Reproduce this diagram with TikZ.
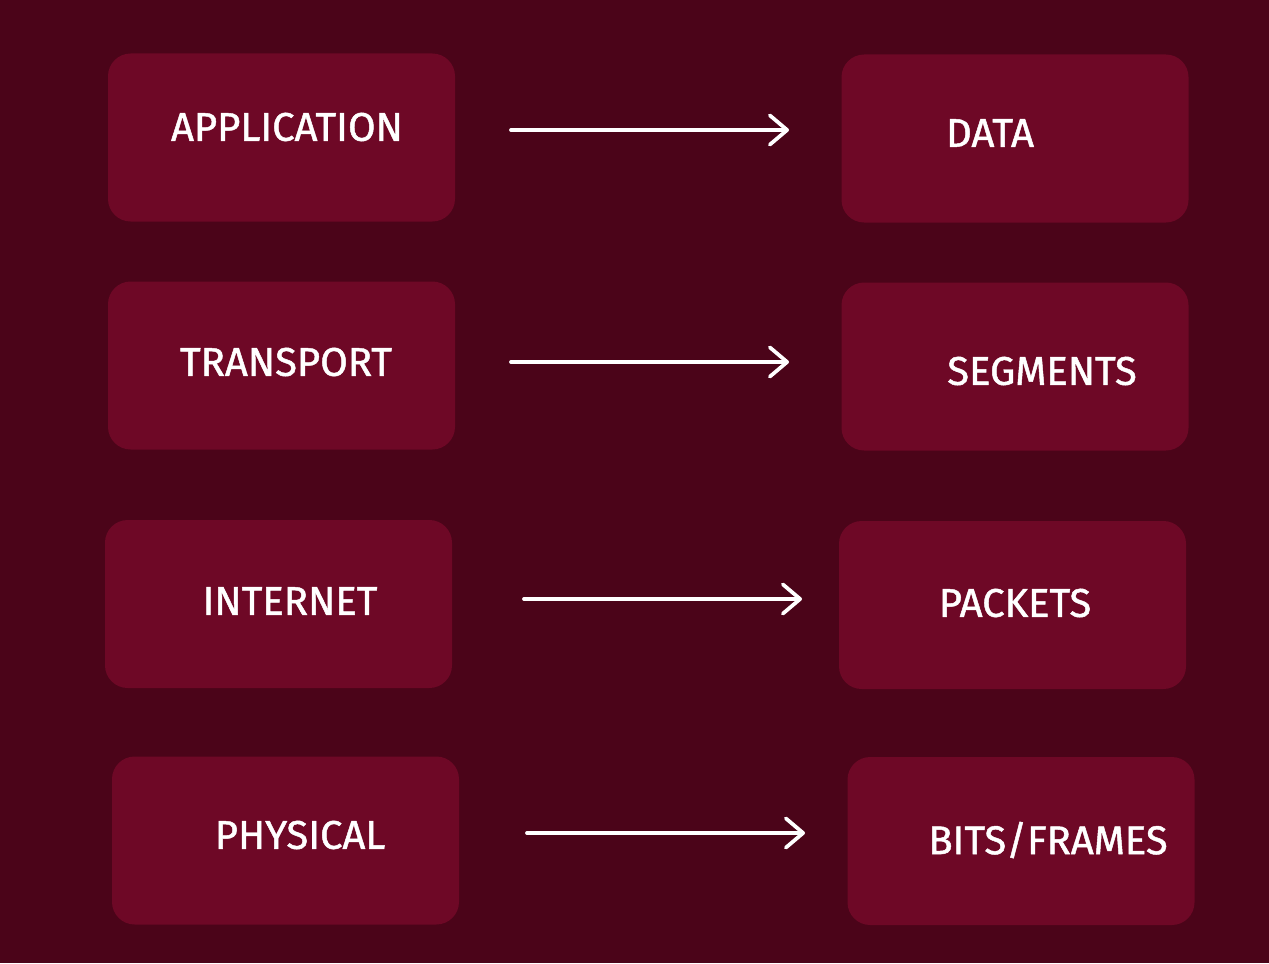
\documentclass[tikz,border=0pt]{standalone}
\usepackage{fontspec}
\setmainfont{Fira Sans}
\newfontfamily\lblfont[FakeBold=1.2]{Fira Sans}
\usetikzlibrary{arrows.meta}
\definecolor{bg}{HTML}{4B0419}
\definecolor{boxc}{HTML}{6E0826}
\tikzset{
  px/.style={x=0.75pt,y=-0.75pt},
  layer/.style={fill=boxc, draw=none, rounded corners=17pt, minimum width=347*0.75pt, minimum height=168*0.75pt, inner sep=0pt},
  lbl/.style={text=white, font=\lblfont\fontsize{30}{33}\selectfont, inner sep=0pt},
  conn/.style={draw=white, line width=2.8pt, line cap=round, -{Straight Barb[length=13pt,width=22pt,line width=2.8pt,round]}}
}
\begin{document}
\begin{tikzpicture}[px]
\fill[bg] (0,0) rectangle (1269,963);
\useasboundingbox (0,0) rectangle (1269,963);
% left boxes
\node[layer] (l1) at (281.5,137.5) {};
\node[layer] (l2) at (281.5,365.5) {};
\node[layer] (l3) at (278.5,604) {};
\node[layer] (l4) at (285.5,840.5) {};
% right boxes
\node[layer] (r1) at (1015,138.5) {};
\node[layer] (r2) at (1015,366.5) {};
\node[layer] (r3) at (1012.5,605) {};
\node[layer] (r4) at (1021,841) {};
% labels
\node[lbl] (t1) at (287,127) {APPLICATION};
\node[lbl] (t2) at (286,362) {TRANSPORT};
\node[lbl] (t3) at (290,601) {INTERNET};
\node[lbl] (t4) at (300,835) {PHYSICAL};
\node[lbl] (u1) at (990,133) {DATA};
\node[lbl] (u2) at (1042,371) {SEGMENTS};
\node[lbl] (u3) at (1015,603) {PACKETS};
\node[lbl] (u4) at (1048,840) {BITS/FRAMES};
% arrow endpoints
\coordinate (a1s) at (511,130); \coordinate (a1e) at (789,130);
\coordinate (a2s) at (511,362); \coordinate (a2e) at (789,362);
\coordinate (a3s) at (524,599); \coordinate (a3e) at (802,599);
\coordinate (a4s) at (527,833); \coordinate (a4e) at (805,833);
\draw[conn] (a1s) -- (a1e);
\draw[conn] (a2s) -- (a2e);
\draw[conn] (a3s) -- (a3e);
\draw[conn] (a4s) -- (a4e);
\end{tikzpicture}
\end{document}
